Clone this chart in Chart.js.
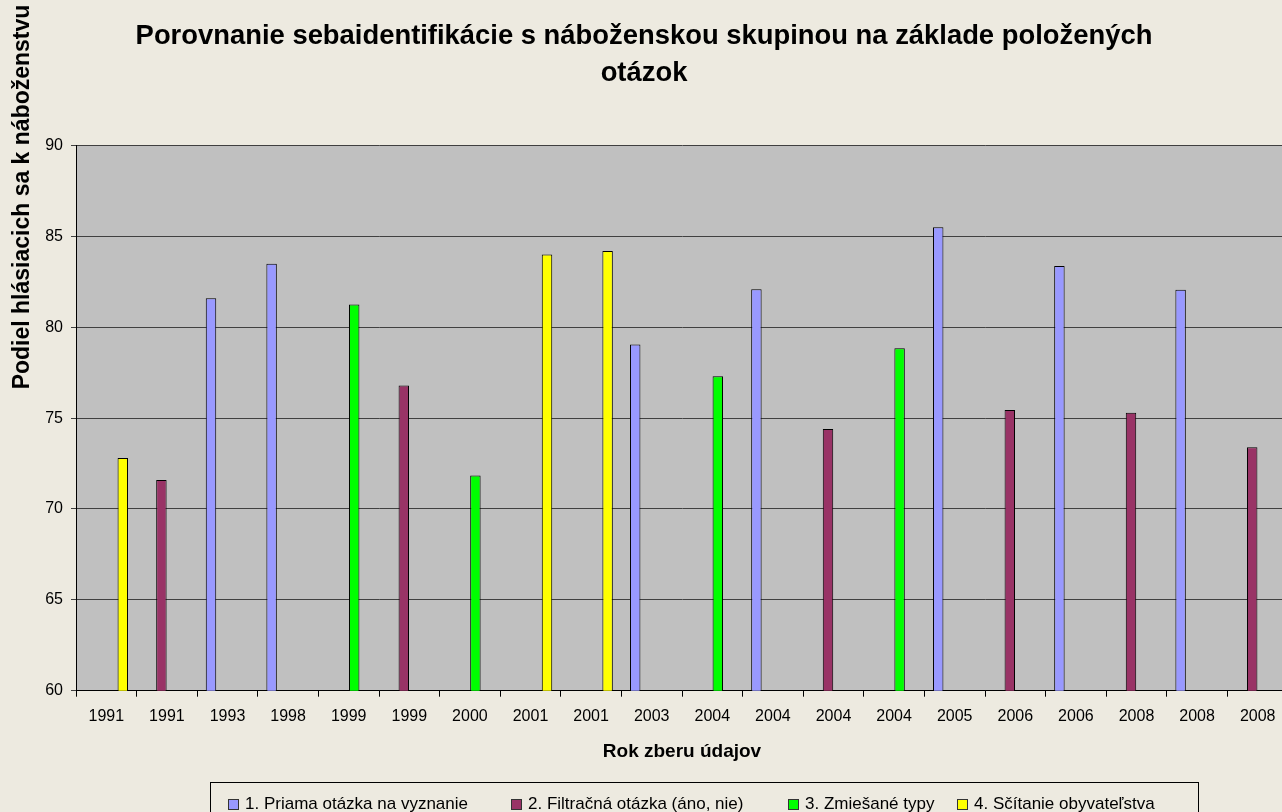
<!DOCTYPE html>
<html lang="sk">
<head>
<meta charset="utf-8">
<title>Porovnanie sebaidentifikácie s náboženskou skupinou</title>
<script src="https://cdn.jsdelivr.net/npm/chart.js@4.4.1/dist/chart.umd.min.js"></script>
<style>
  html, body { margin: 0; padding: 0; overflow: hidden; background: #EDEAE0; }
  #wrap { width: 1288px; height: 812px; }
</style>
</head>
<body>
<div id="wrap"><canvas id="chart" width="1288" height="812"></canvas></div>
<script>
// Categories (year of data collection), one bar per category
const years = ['1991', '1991', '1993', '1998', '1999', '1999', '2000', '2001', '2001', '2003',
               '2004', '2004', '2004', '2004', '2005', '2006', '2006', '2008', '2008', '2008'];

// Series values (share of respondents declaring a religion, %)
const priama    = [null, null, 81.6, 83.5, null, null, null, null, null, 79.05,
                   null, 82.1, null, null, 85.5, null, 83.37, null, 82.07, null];
const filtracna = [null, 71.6, null, null, null, 76.8, null, null, null, null,
                   null, null, 74.4, null, null, 75.45, null, 75.3, null, 73.4];
const zmiesane  = [null, null, null, null, 81.25, null, 71.85, null, null, null,
                   77.3, null, null, 78.85, null, null, null, null, null, null];
const scitanie  = [72.8, null, null, null, null, null, null, 84.0, 84.2, null,
                   null, null, null, null, null, null, null, null, null, null];

const seriesNames = ['1. Priama otázka na vyznanie', '2. Filtračná otázka (áno, nie)',
                     '3. Zmiešané typy', '4. Sčítanie obyvateľstva'];

// Value axis
const yMin = 60;
const yMax = 90;
const yStep = 5;

const FONT = '"Liberation Sans", Arial, sans-serif';
const colors = ['#9999FF', '#993366', '#00FF00', '#FFFF00'];

// Gray plot area
const plotBackground = {
    id: 'plotBackground',
    beforeDraw(chart) {
        const { ctx, chartArea: a } = chart;
        ctx.save();
        ctx.fillStyle = '#C0C0C0';
        ctx.fillRect(a.left, a.top, a.right - a.left, a.bottom - a.top);
        ctx.restore();
    }
};

// Y axis title sits high on the left, not centred on the axis
const yAxisTitle = {
    id: 'yAxisTitle',
    afterDraw(chart) {
        const ctx = chart.ctx;
        ctx.save();
        ctx.translate(23, 197);
        ctx.rotate(-Math.PI / 2);
        ctx.font = 'bold 23px ' + FONT;
        ctx.fillStyle = '#000';
        ctx.textAlign = 'center';
        ctx.textBaseline = 'middle';
        ctx.fillText('Podiel hlásiacich sa k náboženstvu', 0, 0);
        ctx.restore();
    }
};

// Boxed legend at the bottom (cut by the picture edge like the original)
const legendBox = {
    id: 'legendBox',
    afterDraw(chart) {
        const ctx = chart.ctx;
        const markerX = [228, 511, 788, 957];
        ctx.save();
        ctx.strokeStyle = '#000';
        ctx.lineWidth = 1;
        ctx.strokeRect(210.5, 782.5, 988, 40);
        ctx.font = '17px ' + FONT;
        ctx.textBaseline = 'alphabetic';
        chart.data.datasets.forEach((ds, i) => {
            const x = markerX[i];
            ctx.fillStyle = ds.backgroundColor;
            ctx.fillRect(x, 799, 10, 10);
            ctx.strokeStyle = '#333';
            ctx.strokeRect(x + 0.5, 799.5, 10, 10);
            ctx.fillStyle = '#000';
            ctx.fillText(ds.label, x + 17, 809);
        });
        ctx.restore();
    }
};

const datasets = [priama, filtracna, zmiesane, scitanie].map((values, i) => ({
    label: seriesNames[i],
    data: values,
    backgroundColor: colors[i],
    borderColor: '#000',
    borderWidth: 1,
    barPercentage: 0.95,
    categoryPercentage: 0.726
}));

new Chart(document.getElementById('chart'), {
    type: 'bar',
    data: { labels: years, datasets },
    options: {
        responsive: false,
        animation: false,
        layout: { padding: 0 },
        plugins: {
            legend: { display: false },
            tooltip: { enabled: false },
            title: {
                display: true,
                text: ['Porovnanie sebaidentifikácie s náboženskou skupinou na základe položených', 'otázok'],
                color: '#000',
                font: { family: FONT, size: 27.4, weight: 'bold', lineHeight: 1.37 },
                padding: { top: 17.5, bottom: 53 }
            }
        },
        scales: {
            x: {
                afterFit: s => { s.height = 121.3; },
                grid: { drawOnChartArea: false, drawTicks: true, tickLength: 6, color: '#000', offset: true },
                border: { display: true, color: '#000', width: 1 },
                ticks: { color: '#000', font: { family: FONT, size: 16 }, padding: 10, maxRotation: 0, autoSkip: false },
                title: {
                    display: true,
                    text: 'Rok zberu údajov',
                    color: '#000',
                    font: { family: FONT, size: 19, weight: 'bold' },
                    padding: { top: 0, bottom: 49 }
                }
            },
            y: {
                min: yMin,
                max: yMax,
                afterFit: s => { s.width = 76; },
                grid: { color: '#404040', tickLength: 5, drawTicks: true },
                border: { display: true, color: '#000', width: 1 },
                ticks: { stepSize: yStep, color: '#000', font: { family: FONT, size: 16 }, padding: 8 }
            }
        }
    },
    plugins: [plotBackground, yAxisTitle, legendBox]
});
</script>
</body>
</html>
